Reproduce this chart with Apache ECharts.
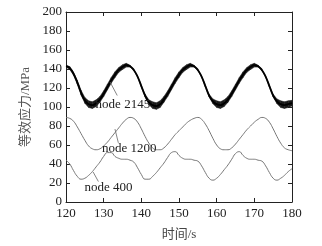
<!DOCTYPE html>
<html>
<head>
<meta charset="utf-8">
<script src="https://cdn.jsdelivr.net/npm/echarts@6/dist/echarts.min.js"></script>
<style>
  html, body { margin: 0; padding: 0; background: #fff; }
  #chart { width: 322px; height: 246px; }
</style>
</head>
<body>
<div id="chart"></div>
<script>
// 时间 120..180 s, one value per second
const xTicks = [120, 130, 140, 150, 160, 170, 180];
const yTicks = [0, 20, 40, 60, 80, 100, 120, 140, 160, 180, 200];

// node 2145 mean curve (MPa)
const n2145 = [
  143, 141, 135, 126, 115, 107, 103, 102, 104, 108,
  114, 121, 128, 134, 139, 142, 144, 143, 139, 132,
  122, 112, 105, 102, 101, 103, 108, 114, 121, 128,
  134, 139, 142, 144, 143, 139, 132, 122, 112, 106,
  103, 102, 104, 108, 114, 121, 128, 134, 139, 142,
  144, 143, 139, 132, 122, 112, 106, 103, 102, 103, 104
];
// node 2145 vibration band width (MPa)
const n2145Band = [
  2, 3, 3, 4, 5, 6, 7, 7, 7, 6,
  6, 6, 6, 6, 5, 5, 4, 2, 1, 1,
  2, 3, 5, 7, 7, 7, 6, 6, 6, 6,
  6, 5, 5, 4, 2, 1, 1, 2, 3, 5,
  7, 7, 7, 6, 6, 6, 6, 6, 5, 5,
  4, 2, 1, 1, 2, 3, 5, 7, 7, 7, 6
];
// node 1200 (MPa)
const n1200 = [
  89, 88, 85, 79, 72, 65, 59, 56, 55, 56,
  59, 63, 68, 73, 78, 83, 87, 89, 88, 84,
  77, 69, 62, 57, 55, 55, 57, 61, 66, 71,
  75, 79, 83, 86, 88, 89, 87, 82, 75, 67,
  60, 56, 55, 55, 57, 61, 66, 71, 76, 80,
  84, 87, 89, 88, 84, 77, 69, 62, 57, 55, 54
];
// node 400 (MPa)
const n400 = [
  44, 40, 33, 27, 24, 25, 28, 32, 37, 42,
  48, 52, 52, 48, 46, 45, 45, 44, 42, 36,
  29, 24, 24, 27, 31, 36, 41, 47, 52, 53,
  49, 46, 45, 45, 44, 43, 38, 31, 25, 23,
  25, 29, 34, 39, 45, 51, 53, 49, 46, 45,
  45, 44, 43, 38, 31, 25, 23, 25, 28, 32, 35
];

const times = n2145.map((_, i) => xTicks[0] + i);
const pairs = arr => arr.map((v, i) => [times[i], v]);

const serif = "'Liberation Serif', 'Noto Sans CJK SC', serif";

const chart = echarts.init(document.getElementById("chart"));

function note(text, at, from, to) {
  return {
    markPoint: {
      symbol: "rect",
      symbolSize: 1,
      itemStyle: { color: "rgba(0,0,0,0)" },
      label: {
        show: true,
        position: "inside",
        formatter: text,
        color: "#222",
        fontFamily: serif,
        fontSize: 13
      },
      data: [{ coord: at }]
    },
    markLine: {
      silent: true,
      symbol: "none",
      label: { show: false },
      lineStyle: { color: "#666", width: 0.8, type: "solid" },
      data: [[{ coord: from }, { coord: to }]]
    }
  };
}

const axisCommon = {
  type: "value",
  axisLine: { show: true, onZero: false, lineStyle: { color: "#222", width: 1 } },
  axisTick: { show: true, inside: true, length: 4, lineStyle: { color: "#222" } },
  splitLine: { show: false }
};

// vibration band of node 2145: [t, low, high]
const bandData = n2145.map((v, i) => [times[i], v - n2145Band[i] / 2, v + n2145Band[i] / 2]);

function renderBand(params, api) {
  const i = params.dataIndex;
  if (i >= bandData.length - 1) return;
  const a = bandData[i], b = bandData[i + 1];
  const pts = [
    api.coord([a[0], a[1]]),
    api.coord([b[0], b[1]]),
    api.coord([b[0], b[2]]),
    api.coord([a[0], a[2]])
  ];
  return {
    type: "polygon",
    shape: { points: pts },
    style: { fill: "#1a1a1a", stroke: "#1a1a1a", lineWidth: 0.5 }
  };
}

const option = {
  animation: false,
  backgroundColor: "#fff",
  grid: { left: 66, right: 30, top: 12, bottom: 36 },
  xAxis: [
    Object.assign({}, axisCommon, {
      min: 120, max: 180, interval: 10,
      position: "bottom",
      name: "时间/s",
      nameLocation: "middle",
      nameGap: 26,
      nameTextStyle: { color: "#444", fontFamily: serif, fontSize: 13 },
      axisLabel: { color: "#222", fontFamily: serif, fontSize: 13, margin: 5 }
    }),
    Object.assign({}, axisCommon, {
      min: 120, max: 180, interval: 10,
      position: "top",
      axisLabel: { show: false }
    })
  ],
  yAxis: [
    Object.assign({}, axisCommon, {
      min: 0, max: 200, interval: 20,
      position: "left",
      name: "等效应力/MPa",
      nameLocation: "middle",
      nameRotate: 90,
      nameGap: 33,
      nameTextStyle: { color: "#555", fontFamily: serif, fontSize: 13 },
      axisLabel: { color: "#222", fontFamily: serif, fontSize: 13, margin: 4 }
    }),
    Object.assign({}, axisCommon, {
      min: 0, max: 200, interval: 20,
      position: "right",
      axisLabel: { show: false }
    })
  ],
  series: [
    {
      type: "custom",
      renderItem: renderBand,
      data: bandData,
      encode: { x: 0, y: [1, 2] },
      clip: true
    },
    Object.assign({
      name: "node 2145",
      type: "line",
      data: pairs(n2145),
      showSymbol: false,
      smooth: true,
      lineStyle: { width: 1.8, color: "#000" }
    }, note("node 2145", [135.1, 102.7], [131.7, 126.3], [133.6, 112.1])),
    Object.assign({
      name: "node 1200",
      type: "line",
      data: pairs(n1200),
      showSymbol: false,
      smooth: true,
      lineStyle: { width: 1, color: "#777" }
    }, note("node 1200", [136.8, 56.6], [133, 76.8], [133.9, 62.3])),
    Object.assign({
      name: "node 400",
      type: "line",
      data: pairs(n400),
      showSymbol: false,
      smooth: true,
      lineStyle: { width: 1, color: "#777" }
    }, note("node 400", [131.3, 15.5], [127.2, 31.6], [128.6, 21.5]))
  ]
};

chart.setOption(option);
</script>
</body>
</html>
